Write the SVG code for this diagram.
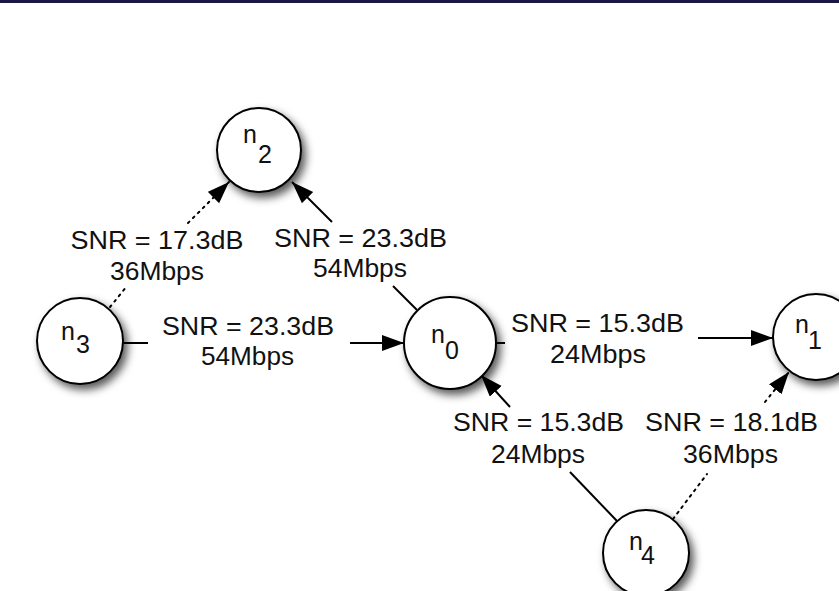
<svg xmlns="http://www.w3.org/2000/svg" width="839" height="591" viewBox="0 0 839 591">
  <style>
    .node circle { fill: #ffffff; stroke: #000000; stroke-width: 2; filter: url(#shadow); }
    .nl { font-family: "Liberation Sans", Arial, sans-serif; font-size: 25px; fill: #111111; }
    .lbl { font-family: "Liberation Sans", Arial, sans-serif; font-size: 26px; fill: #111111; text-anchor: middle; }
    .edge { fill: none; stroke: #000000; stroke-width: 2; }
    .dotted { stroke-dasharray: 2 5; stroke-linecap: round; }
  </style>
  <defs>
    <filter id="shadow" x="-30%" y="-30%" width="170%" height="170%">
      <feDropShadow dx="4" dy="5" stdDeviation="4.5" flood-color="#000000" flood-opacity="0.65"/>
    </filter>
    <marker id="arrow" markerUnits="userSpaceOnUse" markerWidth="23" markerHeight="17" refX="22" refY="8" orient="auto">
      <path d="M0,0 L22,8 L0,16 Z" fill="#000000"/>
    </marker>
  </defs>

  <rect x="0" y="0" width="839" height="3" fill="#1a1840"/>

  <!-- connectors, each broken where its label sits -->
  <g id="connectors">
    <!-- n3 -> n2 (dotted) -->
    <path class="edge dotted" d="M110,307 L127,286"/>
    <path class="edge dotted" d="M188,223 L229,182" marker-end="url(#arrow)"/>
    <!-- n0 -> n2 -->
    <path class="edge" d="M417,310 L393,286"/>
    <path class="edge" d="M332,222 L292,182" marker-end="url(#arrow)"/>
    <!-- n3 -> n0 -->
    <path class="edge" d="M123,343 L148,343"/>
    <path class="edge" d="M350,343 L404,343" marker-end="url(#arrow)"/>
    <!-- n0 -> n1 -->
    <path class="edge" d="M497,343 L505,343"/>
    <path class="edge" d="M698,338 L773,338" marker-end="url(#arrow)"/>
    <!-- n4 -> n0 -->
    <path class="edge" d="M617,521 L570,472"/>
    <path class="edge" d="M510,407 L481,375" marker-end="url(#arrow)"/>
    <!-- n4 -> n1 (dotted) -->
    <path class="edge dotted" d="M673,519 L707,474"/>
    <path class="edge dotted" d="M765,402 L789,372" marker-end="url(#arrow)"/>
  </g>

  <!-- link labels -->
  <g id="labels">
    <text class="lbl" x="157" y="249" textLength="173" lengthAdjust="spacingAndGlyphs">SNR = 17.3dB</text>
    <text class="lbl" x="157" y="280" textLength="94" lengthAdjust="spacingAndGlyphs">36Mbps</text>

    <text class="lbl" x="360.5" y="247" textLength="173" lengthAdjust="spacingAndGlyphs">SNR = 23.3dB</text>
    <text class="lbl" x="360" y="277" textLength="94" lengthAdjust="spacingAndGlyphs">54Mbps</text>

    <text class="lbl" x="248" y="335" textLength="172" lengthAdjust="spacingAndGlyphs">SNR = 23.3dB</text>
    <text class="lbl" x="247.5" y="365" textLength="93" lengthAdjust="spacingAndGlyphs">54Mbps</text>

    <text class="lbl" x="597.5" y="332" textLength="173" lengthAdjust="spacingAndGlyphs">SNR = 15.3dB</text>
    <text class="lbl" x="598" y="363" textLength="96" lengthAdjust="spacingAndGlyphs">24Mbps</text>

    <text class="lbl" x="538.5" y="431" textLength="171" lengthAdjust="spacingAndGlyphs">SNR = 15.3dB</text>
    <text class="lbl" x="538" y="463" textLength="94" lengthAdjust="spacingAndGlyphs">24Mbps</text>

    <text class="lbl" x="731.5" y="431" textLength="173" lengthAdjust="spacingAndGlyphs">SNR = 18.1dB</text>
    <text class="lbl" x="730.5" y="463" textLength="95" lengthAdjust="spacingAndGlyphs">36Mbps</text>
  </g>

  <!-- nodes: "n" raised, index lowered -->
  <g id="n2" class="node">
    <circle cx="259" cy="150" r="42"/>
    <text class="nl"><tspan x="243" y="143">n</tspan><tspan x="258" y="163">2</tspan></text>
  </g>
  <g id="n3" class="node">
    <circle cx="80" cy="341" r="43"/>
    <text class="nl"><tspan x="61" y="340">n</tspan><tspan x="76" y="353">3</tspan></text>
  </g>
  <g id="n0" class="node">
    <circle cx="450" cy="343" r="46"/>
    <text class="nl"><tspan x="431" y="343">n</tspan><tspan x="445" y="359">0</tspan></text>
  </g>
  <g id="n1" class="node">
    <circle cx="816" cy="337" r="43"/>
    <text class="nl"><tspan x="795" y="333">n</tspan><tspan x="808" y="349">1</tspan></text>
  </g>
  <g id="n4" class="node">
    <circle cx="646" cy="553" r="43"/>
    <text class="nl"><tspan x="629" y="550">n</tspan><tspan x="641" y="564">4</tspan></text>
  </g>
</svg>
